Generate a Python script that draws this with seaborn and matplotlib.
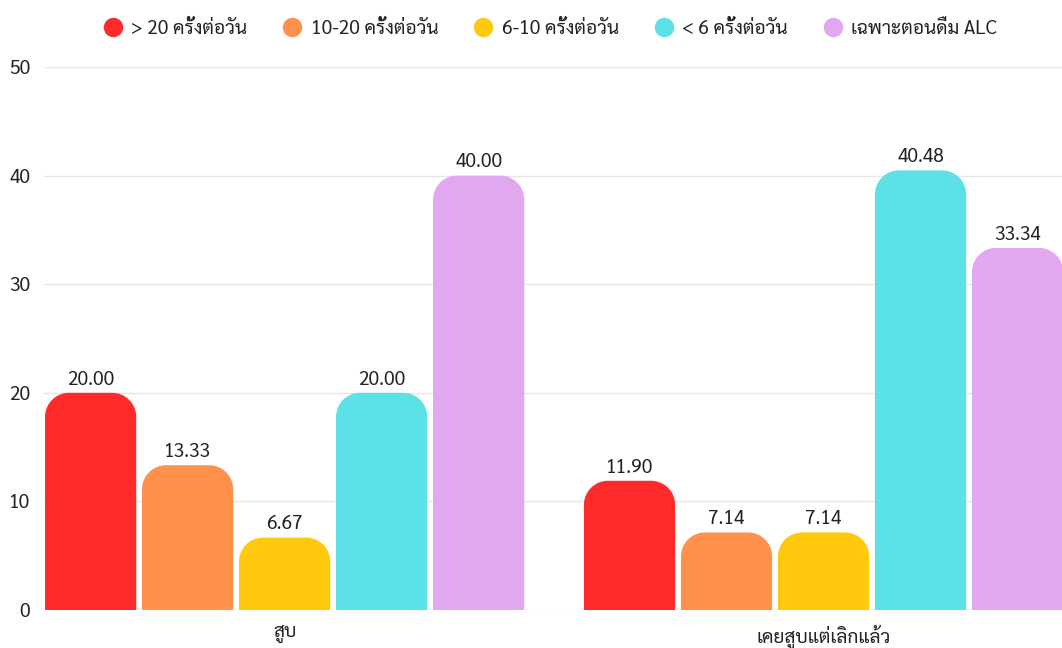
import matplotlib
matplotlib.use("Agg")
import matplotlib.pyplot as plt
from matplotlib.path import Path
from matplotlib.patches import PathPatch
from matplotlib.lines import Line2D
import pandas as pd
import seaborn as sns

# Smoking-status groups and frequency series
categories = ["สูบ", "เคยสูบแต่เลิกแล้ว"]
series = ["> 20 ครั้งต่อวัน", "10-20 ครั้งต่อวัน", "6-10 ครั้งต่อวัน", "< 6 ครั้งต่อวัน", "เฉพาะตอนดื่ม ALC"]
values_smoker = [20.00, 13.33, 6.67, 20.00, 40.00]
values_former = [11.90, 7.14, 7.14, 40.48, 33.34]
colors = ["#FF2B2B", "#FF914D", "#FFC90D", "#5CE1E6", "#E1A8F0"]
y_ticks = [0, 10, 20, 30, 40, 50]

rows = []
for cat, vals in zip(categories, [values_smoker, values_former]):
    for s, v in zip(series, vals):
        rows.append({"group": cat, "series": s, "value": v})
df = pd.DataFrame(rows)

sns.set_style("white")
plt.rcParams["font.family"] = ["Sarabun", "DejaVu Sans"]
text_color = "#222222"
fs = 13.8

W, H = 1062, 648
fig = plt.figure(figsize=(W / 100, H / 100), dpi=100)
ax = fig.add_axes([44 / W, (H - 610) / H, (W - 44) / W, (610 - 67) / H])

sns.barplot(data=df, x="group", y="value", hue="series", order=categories,
            hue_order=series, palette=colors, width=0.9, gap=0.06,
            saturation=1, errorbar=None, legend=False, ax=ax, zorder=3)

ax.set_xlim(-0.4465, 1.4425)
ax.set_ylim(0, 50)
ax.set_yticks(y_ticks)
ax.set_xlabel("")
ax.set_ylabel("")
ax.grid(axis="y", color="#E6E6E6", linewidth=1.0, zorder=0)
ax.grid(axis="x", visible=False)
ax.set_axisbelow(True)
for sp in ax.spines.values():
    sp.set_visible(False)
ax.tick_params(axis="both", length=0, labelsize=fs, colors=text_color)
ax.tick_params(axis="y", pad=10)
ax.tick_params(axis="x", pad=11)

# Value labels above every bar
for cont in ax.containers:
    ax.bar_label(cont, fmt="{:.2f}", padding=3, fontsize=fs, color=text_color)

# Replace plain rectangles with bars that have rounded top corners
fig.canvas.draw()
radius_px = 24
x0d, y0d = ax.transData.transform((0, 0))
x1d, y1d = ax.transData.transform((1, 1))
px_x = x1d - x0d
px_y = y1d - y0d
k = 0.5523
for cont in ax.containers:
    for rect in cont.patches:
        x, y = rect.get_x(), rect.get_y()
        w, h = rect.get_width(), rect.get_height()
        rx = min(radius_px / px_x, w / 2)
        ry = min(radius_px / px_y, h)
        top = y + h
        verts = [
            (x, y), (x, top - ry),
            (x, top - ry + k * ry), (x + rx - k * rx, top), (x + rx, top),
            (x + w - rx, top),
            (x + w - rx + k * rx, top), (x + w, top - ry + k * ry), (x + w, top - ry),
            (x + w, y), (x, y),
        ]
        codes = [Path.MOVETO, Path.LINETO,
                 Path.CURVE4, Path.CURVE4, Path.CURVE4,
                 Path.LINETO,
                 Path.CURVE4, Path.CURVE4, Path.CURVE4,
                 Path.LINETO, Path.CLOSEPOLY]
        ax.add_patch(PathPatch(Path(verts, codes), facecolor=rect.get_facecolor(),
                               edgecolor="none", zorder=3, clip_on=True))
        rect.set_visible(False)

handles = [Line2D([], [], linestyle="none", marker="o", markersize=14,
                  markerfacecolor=c, markeredgecolor="none") for c in colors]
fig.legend(handles, series, loc="center", bbox_to_anchor=(0.518, 1 - 29 / H),
           ncol=5, frameon=False, fontsize=fs, handlelength=1.0,
           handletextpad=0.45, columnspacing=1.85, labelcolor=text_color)

fig.savefig("out.png", dpi=100)
